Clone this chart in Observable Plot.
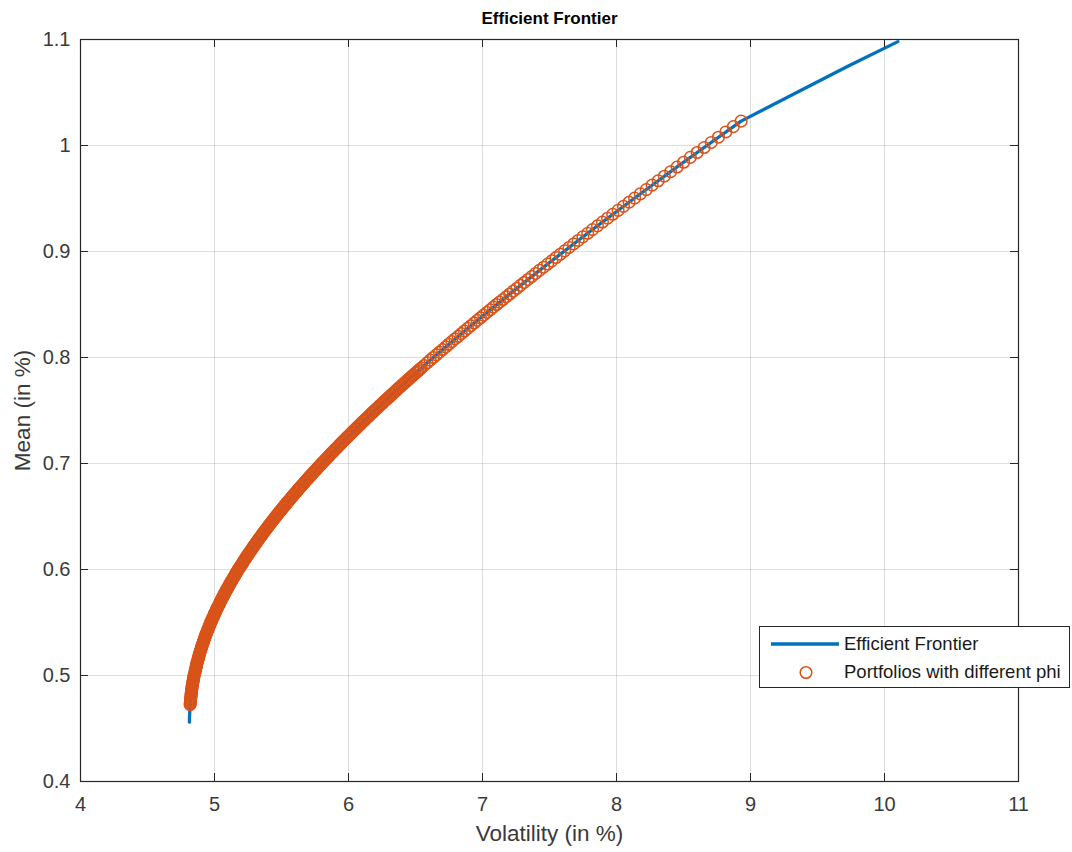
<!DOCTYPE html>
<html>
<head>
<meta charset="utf-8">
<script src="https://cdn.jsdelivr.net/npm/d3@7"></script>
<script src="https://cdn.jsdelivr.net/npm/@observablehq/plot@0.6"></script>
<style>
  body { margin: 0; background: #fff; }
  #wrap { position: relative; width: 1072px; height: 852px; font-family: "Liberation Sans", Arial, Helvetica, sans-serif; color: #262626; }
  #legend { position: absolute; left: 759px; top: 626px; width: 311px; height: 62px; box-sizing: border-box; border: 1px solid #262626; background: #fff; }
  #legend svg { position: absolute; left: 0; top: 0; }
  #legend .lab { position: absolute; left: 84px; font-size: 18.5px; line-height: 20px; white-space: nowrap; color: #1a1a1a; }
</style>
</head>
<body>
<div id="wrap"><div id="chart"></div></div>
<script>
// ---- data ----
const titleText = "Efficient Frontier";
const xLabel = "Volatility (in %)";
const yLabel = "Mean (in %)";
const seriesNames = ["Efficient Frontier", "Portfolios with different phi"];
const xTicks = [4, 5, 6, 7, 8, 9, 10, 11];
const yTicks = [0.4, 0.5, 0.6, 0.7, 0.8, 0.9, 1.0, 1.1];

// efficient frontier [volatility, mean]
const frontier = [
  [4.813,0.456],[4.8133,0.46],[4.817,0.47],[4.824,0.48],[4.848,0.50],[4.887,0.52],[4.940,0.54],
  [5.007,0.56],[5.086,0.58],[5.178,0.60],[5.282,0.62],[5.397,0.64],[5.522,0.66],[5.657,0.68],
  [5.800,0.70],[5.952,0.72],[6.112,0.74],[6.279,0.76],[6.453,0.78],[6.633,0.80],[6.913,0.83],
  [7.204,0.86],[7.504,0.89],[7.814,0.92],[8.131,0.95],[8.455,0.98],[8.675,1.00],[8.93,1.023],
  [9.345,1.05],[9.73,1.075],[10.10,1.098]
];

// portfolios with different phi [volatility, mean]
const portfolios = [
  [8.930,1.023],[8.872,1.0178],[8.816,1.0128],[8.761,1.0078],[8.707,1.0029],[8.654,0.9981],
  [8.602,0.9934],[8.551,0.9888],[8.501,0.9842],[8.452,0.9797],[8.404,0.9753],[8.357,0.9710],
  [8.311,0.9667],[8.266,0.9626],[8.222,0.9584],[8.178,0.9544],[8.135,0.9504],[8.094,0.9465],
  [8.052,0.9426],[8.012,0.9388],[7.972,0.9351],[7.933,0.9314],[7.895,0.9278],[7.858,0.9242],
  [7.821,0.9207],[7.785,0.9172],[7.749,0.9138],[7.714,0.9104],[7.680,0.9071],[7.646,0.9038],
  [7.613,0.9006],[7.580,0.8974],[7.548,0.8943],[7.517,0.8912],[7.486,0.8882],[7.456,0.8852],
  [7.425,0.8822],[7.396,0.8793],[7.367,0.8764],[7.339,0.8736],[7.311,0.8708],[7.283,0.8680],
  [7.256,0.8653],[7.229,0.8626],[7.203,0.8599],[7.177,0.8573],[7.152,0.8547],[7.127,0.8522],
  [7.105,0.85],[7.081,0.8475],[7.057,0.845],[7.033,0.8425],[7.008,0.84],[6.985,0.8375],
  [6.961,0.835],[6.937,0.8325],[6.913,0.83],[6.889,0.8275],[6.865,0.825],[6.842,0.8225],
  [6.818,0.82],[6.795,0.8175],[6.771,0.815],[6.748,0.8125],[6.725,0.81],[6.702,0.8075],
  [6.679,0.805],[6.656,0.8025],[6.633,0.80],[6.610,0.7975],[6.587,0.795],[6.565,0.7925],
  [6.542,0.79],[6.520,0.7875],[6.498,0.785],[6.475,0.7825],[6.453,0.78],[6.431,0.7775],
  [6.409,0.775],[6.387,0.7725],[6.365,0.77],[6.344,0.7675],[6.322,0.765],[6.301,0.7625],
  [6.279,0.76],[6.258,0.7575],[6.237,0.755],[6.216,0.7525],[6.195,0.75],[6.174,0.7475],
  [6.154,0.745],[6.133,0.7425],[6.112,0.74],[6.092,0.7375],[6.072,0.735],[6.052,0.7325],
  [6.031,0.73],[6.012,0.7275],[5.992,0.725],[5.972,0.7225],[5.952,0.72],[5.933,0.7175],
  [5.914,0.715],[5.895,0.7125],[5.875,0.71],[5.857,0.7075],[5.838,0.705],[5.819,0.7025],
  [5.800,0.70],[5.782,0.6975],[5.764,0.695],[5.746,0.6925],[5.727,0.69],[5.710,0.6875],
  [5.692,0.685],[5.674,0.6825],[5.657,0.68],[5.639,0.6775],[5.622,0.675],[5.605,0.6725],
  [5.588,0.67],[5.571,0.6675],[5.555,0.665],[5.538,0.6625],[5.522,0.66],[5.506,0.6575],
  [5.490,0.655],[5.474,0.6525],[5.458,0.65],[5.443,0.6475],[5.427,0.645],[5.412,0.6425],
  [5.397,0.64],[5.382,0.6375],[5.367,0.635],[5.353,0.6325],[5.338,0.63],[5.324,0.6275],
  [5.310,0.625],[5.296,0.6225],[5.282,0.62],[5.269,0.6175],[5.255,0.615],[5.242,0.6125],
  [5.229,0.61],[5.216,0.6075],[5.204,0.605],[5.191,0.6025],[5.178,0.60],[5.166,0.5975],
  [5.155,0.595],[5.143,0.5925],[5.131,0.59],[5.120,0.5875],[5.109,0.585],[5.098,0.5825],
  [5.086,0.58],[5.076,0.5775],[5.066,0.575],[5.055,0.5725],[5.045,0.57],[5.036,0.5675],
  [5.026,0.565],[5.016,0.5625],[5.007,0.56],[4.998,0.5575],[4.989,0.555],[4.981,0.5525],
  [4.972,0.55],[4.964,0.5475],[4.956,0.545],[4.948,0.5425],[4.940,0.54],[4.933,0.5375],
  [4.926,0.535],[4.919,0.5325],[4.912,0.53],[4.906,0.5275],[4.900,0.525],[4.893,0.5225],
  [4.887,0.52],[4.882,0.5175],[4.877,0.515],[4.871,0.5125],[4.866,0.51],[4.862,0.5075],
  [4.857,0.505],[4.853,0.5025],[4.848,0.50],[4.844,0.4975],[4.841,0.495],[4.837,0.4925],
  [4.834,0.49],[4.831,0.4875],[4.828,0.485],[4.826,0.4825],[4.824,0.48],[4.822,0.4775],
  [4.820,0.475],[4.818,0.4725]
];

// further portfolios, where the markers crowd into a solid band [volatility, mean]
const portfoliosCrowded = [
  [4.819,0.47375],[4.821,0.47625],[4.823,0.47875],[4.825,0.48125],[4.827,0.48375],[4.830,0.48625],
  [4.832,0.48875],[4.836,0.49125],[4.839,0.49375],[4.842,0.49625],[4.846,0.49875],[4.850,0.50125],
  [4.855,0.50375],[4.860,0.50625],[4.864,0.50875],[4.868,0.51125],[4.874,0.51375],[4.880,0.51625],
  [4.884,0.51875],[4.890,0.52125],[4.896,0.52375],[4.903,0.52625],[4.909,0.52875],[4.916,0.53125],
  [4.922,0.53375],[4.930,0.53625],[4.936,0.53875],[4.944,0.54125],[4.952,0.54375],[4.960,0.54625],
  [4.968,0.54875],[4.976,0.55125],[4.985,0.55375],[4.994,0.55625],[5.002,0.55875],[5.012,0.56125],
  [5.021,0.56375],[5.031,0.56625],[5.040,0.56875],[5.050,0.57125],[5.060,0.57375],[5.071,0.57625],
  [5.081,0.57875],[5.092,0.58125],[5.104,0.58375],[5.114,0.58625],[5.126,0.58875],[5.137,0.59125],
  [5.149,0.59375],[5.160,0.59625],[5.172,0.59875],[5.184,0.60125],[5.198,0.60375],[5.210,0.60625],
  [5.222,0.60875],[5.236,0.61125],[5.248,0.61375],[5.262,0.61625],[5.276,0.61875],[5.289,0.62125],
  [5.303,0.62375],[5.317,0.62625],[5.331,0.62875],[5.346,0.63125],[5.360,0.63375],[5.374,0.63625],
  [5.390,0.63875],[5.404,0.64125],[5.420,0.64375],[5.435,0.64625],[5.450,0.64875],[5.466,0.65125],
  [5.482,0.65375],[5.498,0.65625],[5.514,0.65875],[5.530,0.66125],[5.546,0.66375],[5.563,0.66625],
  [5.580,0.66875],[5.596,0.67125],[5.614,0.67375],[5.630,0.67625],[5.648,0.67875],[5.666,0.68125],
  [5.683,0.68375],[5.701,0.68625],[5.718,0.68875],[5.736,0.69125],[5.755,0.69375],[5.773,0.69625],
  [5.791,0.69875],[5.810,0.70125],[5.828,0.70375],[5.848,0.70625],[5.866,0.70875],[5.885,0.71125],
  [5.904,0.71375],[5.924,0.71625],[5.942,0.71875],[5.962,0.72125],[5.982,0.72375],[6.002,0.72625],
  [6.022,0.72875],[6.042,0.73125],[6.062,0.73375],[6.082,0.73625],[6.102,0.73875],[6.122,0.74125],
  [6.144,0.74375],[6.164,0.74625],[6.184,0.74875],[6.206,0.75125],[6.226,0.75375],[6.248,0.75625],
  [6.268,0.75875],[6.290,0.76125],[6.312,0.76375],[6.333,0.76625],[6.354,0.76875],[6.376,0.77125],
  [6.398,0.77375],[6.420,0.77625],[6.442,0.77875],[6.464,0.78125],[6.486,0.78375],[6.509,0.78625],
  [6.531,0.78875]
];

// ---- styling ----
const blue = "#0072BD", orange = "#D95319", axisColor = "#262626";
const W = 1072, H = 852, mL = 80, mR = 54, mT = 39, mB = 71;
const fw = W - mL - mR, fh = H - mT - mB, tk = 8;
const font = '"Liberation Sans", Arial, Helvetica, sans-serif';
const allPortfolios = portfolios.concat(portfoliosCrowded);
const fmt = d3.format("~g");

const chart = Plot.plot({
  width: W, height: H,
  marginLeft: mL, marginRight: mR, marginTop: mT, marginBottom: mB,
  style: { fontFamily: font, fontSize: "20px", color: axisColor, background: "#fff", overflow: "visible" },
  x: { domain: [4, 11] },
  y: { domain: [0.4, 1.1] },
  marks: [
    Plot.gridX(xTicks, { stroke: "#000", strokeOpacity: 0.13 }),
    Plot.gridY(yTicks, { stroke: "#000", strokeOpacity: 0.13 }),
    Plot.axisX(xTicks, { anchor: "bottom", tickSize: 0, tickPadding: 15, label: null, fontSize: 20, fill: "#3a3a3a", tickFormat: fmt }),
    Plot.axisY(yTicks, { anchor: "left", tickSize: 0, tickPadding: 10, label: null, fontSize: 20, fill: "#3a3a3a", tickFormat: fmt }),
    Plot.line(frontier, { x: d => d[0], y: d => d[1], stroke: blue, strokeWidth: 3.3 }),
    Plot.dot(allPortfolios, { x: d => d[0], y: d => d[1], r: 5.8, stroke: orange, strokeWidth: 1.5, fill: "none" }),
    Plot.tickX(xTicks, { x: d => d, insetTop: fh - tk, stroke: axisColor }),
    Plot.tickX(xTicks, { x: d => d, insetBottom: fh - tk, stroke: axisColor }),
    Plot.tickY(yTicks, { y: d => d, insetLeft: fw - tk, stroke: axisColor }),
    Plot.tickY(yTicks, { y: d => d, insetRight: fw - tk, stroke: axisColor }),
    Plot.frame({ stroke: axisColor, strokeWidth: 1.2 }),
    Plot.text([titleText], { text: d => d, frameAnchor: "top", lineAnchor: "middle", textAnchor: "middle", dy: -21, fontWeight: "bold", fontSize: 17, fill: "#000" }),
    Plot.text([xLabel], { text: d => d, frameAnchor: "bottom", lineAnchor: "middle", textAnchor: "middle", dy: 52, fontSize: 22.5, fill: "#3a3a3a" }),
    Plot.text([yLabel], { text: d => d, frameAnchor: "left", lineAnchor: "middle", textAnchor: "middle", dx: -58, rotate: -90, fontSize: 22.5, fill: "#3a3a3a" })
  ]
});
document.getElementById("chart").appendChild(chart);

// ---- legend ----
const legend = document.createElement("div");
legend.id = "legend";
legend.innerHTML = `
  <svg width="311" height="62">
    <line x1="11" x2="79" y1="17" y2="17" stroke="${blue}" stroke-width="3.3"/>
    <circle cx="46" cy="45.5" r="5.8" fill="none" stroke="${orange}" stroke-width="1.5"/>
  </svg>
  <div class="lab" style="top:7px">${seriesNames[0]}</div>
  <div class="lab" style="top:35px">${seriesNames[1]}</div>`;
document.getElementById("wrap").appendChild(legend);
</script>
</body>
</html>
